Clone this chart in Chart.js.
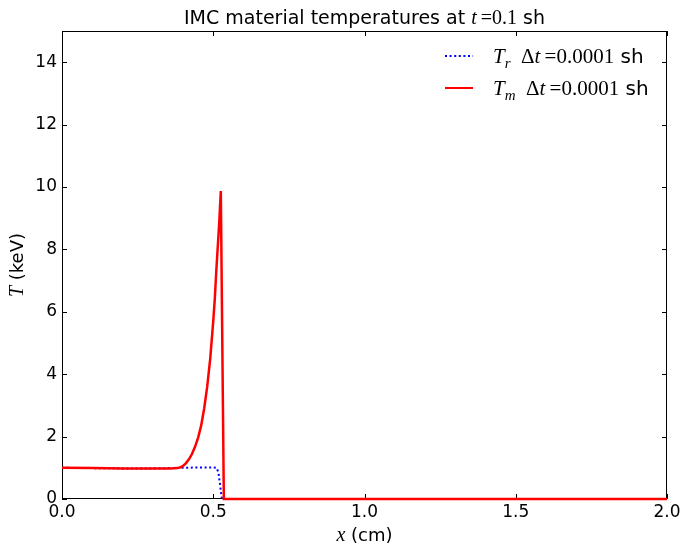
<!DOCTYPE html>
<html>
<head>
<meta charset="utf-8">
<script src="https://cdn.jsdelivr.net/npm/chart.js@4"></script>
<style>
html,body{margin:0;padding:0;background:#fff;}
#wrap{width:682px;height:550px;position:relative;}
</style>
</head>
<body>
<div id="wrap"><canvas id="c" width="682" height="550"></canvas></div>
<script>
// Material temperature T_m
const tmX = [0, 0.1, 0.2, 0.3, 0.36, 0.38, 0.39, 0.40, 0.41, 0.42, 0.43, 0.44, 0.45, 0.46, 0.47, 0.48, 0.49, 0.50, 0.505, 0.51, 0.515, 0.52, 0.525, 0.535, 0.6, 1.0, 1.5, 2.0];
const tmY = [1.0, 0.99, 0.98, 0.98, 0.98, 0.99, 1.01, 1.06, 1.15, 1.28, 1.45, 1.68, 1.97, 2.35, 2.9, 3.6, 4.5, 5.7, 6.4, 7.3, 8.1, 8.9, 9.87, 0, 0, 0, 0, 0];
// Radiation temperature T_r
const trX = [0, 0.1, 0.2, 0.3, 0.4, 0.45, 0.5, 0.511, 0.517, 0.522, 0.527, 0.529, 0.6, 1.0, 2.0];
const trY = [1.0, 0.99, 0.98, 0.98, 1.0, 1.01, 1.01, 1.0, 0.85, 0.5, 0.1, 0, 0, 0, 0];
const xTicks = [0, 0.5, 1.0, 1.5, 2.0];
const yTicks = [0, 2, 4, 6, 8, 10, 12, 14];

const SANS = '"DejaVu Sans", sans-serif';
const SERIF = '"Liberation Serif", "DejaVu Serif", serif';

function drawSegs(ctx, segs, x, y, align) {
  let w = 0;
  segs.forEach(s => { ctx.font = s[1]; w += ctx.measureText(s[0]).width; });
  let cx = align === 'center' ? x - w / 2 : x;
  segs.forEach(s => {
    ctx.font = s[1];
    ctx.fillText(s[0], cx, y + (s[2] || 0));
    cx += ctx.measureText(s[0]).width;
  });
}

const decor = {
  id: 'decor',
  beforeDatasetsDraw(chart) {
    const {ctx, chartArea: a, scales} = chart;
    ctx.save();
    ctx.strokeStyle = '#000';
    ctx.lineWidth = 1;
    ctx.strokeRect(a.left + 0.5, a.top + 0.5, a.right - a.left - 1, a.bottom - a.top - 1);
    const L = 5;
    ctx.beginPath();
    xTicks.forEach(v => {
      const px = Math.round(scales.x.getPixelForValue(v)) + 0.5;
      ctx.moveTo(px, a.bottom); ctx.lineTo(px, a.bottom - L);
      ctx.moveTo(px, a.top); ctx.lineTo(px, a.top + L);
    });
    yTicks.forEach(v => {
      const py = Math.round(scales.y.getPixelForValue(v)) + 0.5;
      ctx.moveTo(a.left, py); ctx.lineTo(a.left + L, py);
      ctx.moveTo(a.right, py); ctx.lineTo(a.right - L, py);
    });
    ctx.stroke();
    ctx.restore();
  },
  afterDraw(chart) {
    const {ctx, chartArea: a} = chart;
    ctx.save();
    ctx.fillStyle = '#000';
    ctx.textBaseline = 'alphabetic';
    const cx = (a.left + a.right) / 2;
    // title
    drawSegs(ctx, [
      ['IMC material temperatures at ', '19px ' + SANS],
      ['t', 'italic 20px ' + SERIF],
      ['\u2009=0.1', '20px ' + SERIF],
      [' sh', '19px ' + SANS]
    ], cx, 24, 'center');
    // x label
    drawSegs(ctx, [
      ['x', 'italic 20px ' + SERIF],
      [' (cm)', '18px ' + SANS]
    ], cx, 541, 'center');
    // y label
    ctx.save();
    ctx.translate(23, (a.top + a.bottom) / 2);
    ctx.rotate(-Math.PI / 2);
    drawSegs(ctx, [
      ['T', 'italic 20px ' + SERIF],
      [' (keV)', '18px ' + SANS]
    ], 0, 0, 'center');
    ctx.restore();
    // legend
    const lx0 = 445, lx1 = 473, tx = 493;
    const rows = [
      {y: 56, color: 'blue', dash: [2, 2.6], sub: 'r'},
      {y: 88, color: 'red', dash: [], sub: 'm'}
    ];
    rows.forEach(r => {
      ctx.save();
      ctx.strokeStyle = r.color;
      ctx.lineWidth = 2;
      ctx.setLineDash(r.dash);
      ctx.beginPath();
      ctx.moveTo(lx0, r.y); ctx.lineTo(lx1, r.y);
      ctx.stroke();
      ctx.restore();
      drawSegs(ctx, [
        ['T', 'italic 21px ' + SERIF],
        [r.sub, 'italic 15px ' + SERIF, 5],
        ['  \u0394', '21px ' + SERIF],
        ['t', 'italic 21px ' + SERIF],
        ['\u2009=0.0001', '21px ' + SERIF],
        [' sh', '20px ' + SANS]
      ], tx, r.y + 7, 'left');
    });
    ctx.restore();
  }
};

new Chart(document.getElementById('c'), {
  type: 'scatter',
  data: {
    datasets: [
      {
        label: 'T_m',
        data: tmX.map((x, i) => ({x: x, y: tmY[i]})),
        showLine: true,
        borderColor: 'red',
        borderWidth: 2.5,
        pointRadius: 0,
        tension: 0,
        clip: false,
        order: 0
      },
      {
        label: 'T_r',
        data: trX.map((x, i) => ({x: x, y: trY[i]})),
        showLine: true,
        borderColor: 'blue',
        borderWidth: 2,
        borderDash: [2, 2.6],
        pointRadius: 0,
        tension: 0,
        clip: false,
        order: 1
      }
    ]
  },
  options: {
    responsive: false,
    animation: false,
    events: [],
    layout: {padding: {left: 0, right: 15, top: 31, bottom: 0}},
    plugins: {legend: {display: false}, title: {display: false}, tooltip: {enabled: false}},
    scales: {
      x: {
        type: 'linear', min: 0, max: 2,
        afterBuildTicks: s => { s.ticks = xTicks.map(v => ({value: v})); },
        afterFit: s => { s.height = 51; s.paddingLeft = 0; s.paddingRight = 0; },
        grid: {display: false, drawTicks: false},
        border: {display: false},
        ticks: {color: '#000', padding: 3, maxRotation: 0, font: {family: 'DejaVu Sans', size: 17},
          callback: v => v.toFixed(1)}
      },
      y: {
        type: 'linear', min: 0, max: 15,
        afterBuildTicks: s => { s.ticks = yTicks.map(v => ({value: v})); },
        afterFit: s => { s.width = 62; s.paddingTop = 0; s.paddingBottom = 0; },
        grid: {display: false, drawTicks: false},
        border: {display: false},
        ticks: {color: '#000', padding: 5, font: {family: 'DejaVu Sans', size: 17},
          callback: v => String(v)}
      }
    }
  },
  plugins: [decor]
});
</script>
</body>
</html>
